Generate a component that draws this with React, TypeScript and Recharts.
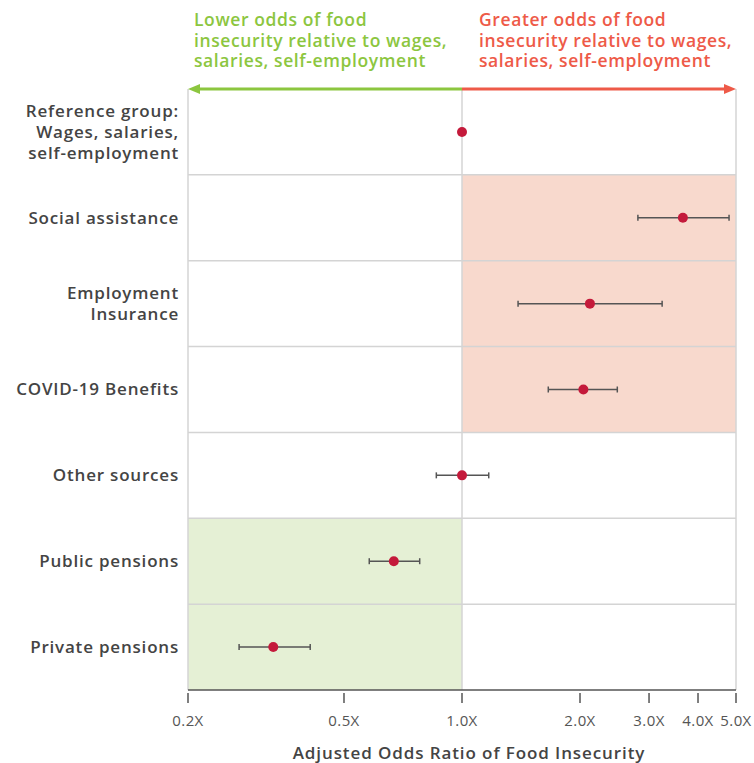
import React from 'react';
import {
  ScatterChart, Scatter, XAxis, YAxis, ErrorBar, ReferenceArea, ReferenceLine,
} from 'recharts';

const categories = [
  ['Reference group:', 'Wages, salaries,', 'self-employment'],
  ['Social assistance'],
  ['Employment', 'Insurance'],
  ['COVID-19 Benefits'],
  ['Other sources'],
  ['Public pensions'],
  ['Private pensions'],
];
const oddsRatio = [1.0, 3.66, 2.12, 2.04, 1.0, 0.67, 0.33];
const ciLow = [null, 2.81, 1.39, 1.66, 0.86, 0.58, 0.27];
const ciHigh = [null, 4.8, 3.24, 2.49, 1.17, 0.78, 0.41];
const xTicks = [0.2, 0.5, 1.0, 2.0, 3.0, 4.0, 5.0];
const lowerLabel = ['Lower odds of food', 'insecurity relative to wages,', 'salaries, self-employment'];
const greaterLabel = ['Greater odds of food', 'insecurity relative to wages,', 'salaries, self-employment'];
const xTitle = 'Adjusted Odds Ratio of Food Insecurity';

const data = categories.map((c, i) => ({
  row: i + 0.5,
  or: oddsRatio[i],
  err: ciLow[i] == null ? null : [oddsRatio[i] - (ciLow[i] as number), (ciHigh[i] as number) - oddsRatio[i]],
}));

const FONT = '"Open Sans", "DejaVu Sans", sans-serif';
const GREEN = '#8cc63f';
const RED = '#ee5a48';
const GRID = '#d4d4d4';

const YTick = (props: any) => {
  const { x, y, payload } = props;
  const idx = Math.round(payload.value - 0.5);
  const lines = categories[idx] || [];
  const lh = 21;
  const start = y - ((lines.length - 1) * lh) / 2;
  return (
    <g>
      {lines.map((l, i) => (
        <text key={i} x={x} y={start + i * lh} dy="0.35em" textAnchor="end" fontFamily={FONT} fontWeight={600} fontSize={17} letterSpacing={0.8} fill="#444">{l}</text>
      ))}
    </g>
  );
};

const XTick = (props: any) => {
  const { x, y, payload } = props;
  return (
    <g>
      <line x1={x} x2={x} y1={y - 5} y2={y + 5} stroke="#555" strokeWidth={1.5} />
      <text x={x} y={y + 23} textAnchor="middle" fontFamily={FONT} fontSize={15} letterSpacing={0.4} fill="#555" dy="0.35em">
        {Number(payload.value).toFixed(1) + 'X'}
      </text>
    </g>
  );
};

const makeArrow = (dir: 'left' | 'right', color: string, lines: string[]) => (props: any) => {
  const { x1, y1, x2 } = props;
  const left = Math.min(x1, x2);
  const right = Math.max(x1, x2);
  const y = y1;
  const head = dir === 'left'
    ? `${left},${y} ${left + 12},${y - 5} ${left + 12},${y + 5}`
    : `${right},${y} ${right - 12},${y - 5} ${right - 12},${y + 5}`;
  const tx = dir === 'left' ? left + 6 : left + 17;
  return (
    <g>
      <line x1={dir === 'left' ? left + 8 : left} x2={dir === 'left' ? right : right - 8} y1={y} y2={y} stroke={color} strokeWidth={3} />
      <polygon points={head} fill={color} />
      {lines.map((l, i) => (
        <text key={i} x={tx} y={20 + i * 20.5} dy="0.35em" fontFamily={FONT} fontWeight={600} fontSize={17.5} letterSpacing={0.6} fill={color}>{l}</text>
      ))}
    </g>
  );
};

const Dot = (props: any) => {
  const { cx, cy } = props;
  return <circle cx={cx} cy={cy} r={5} fill="#c41a3b" />;
};

const XTitle = (props: any) => {
  const { viewBox } = props;
  const cx = viewBox.x + viewBox.width / 2 + 7;
  return (
    <text x={cx} y={753} textAnchor="middle" dy="0.35em" fontFamily={FONT} fontWeight={600} fontSize={17} letterSpacing={0.9} fill="#444">
      {xTitle}
    </text>
  );
};

export default function App() {
  return (
    <div style={{ position: 'absolute', left: 0, top: 0, width: 754, height: 763, background: '#fff' }}>
      <ScatterChart width={754} height={763} margin={{ top: 89, right: 18, bottom: 0, left: 0 }}>
        <XAxis
          type="number"
          dataKey="or"
          scale="log"
          domain={[0.2, 5]}
          allowDataOverflow
          ticks={xTicks}
          interval={0}
          tick={<XTick />}
          tickLine={false}
          height={73}
          axisLine={{ stroke: '#555', strokeWidth: 1.5 }}
          label={<XTitle />}
        />
        <YAxis
          type="number"
          dataKey="row"
          domain={[0, 7]}
          reversed
          ticks={[0.5, 1.5, 2.5, 3.5, 4.5, 5.5, 6.5]}
          interval={0}
          tick={<YTick />}
          tickLine={false}
          axisLine={false}
          width={188}
          tickMargin={3}
        />
        <ReferenceArea x1={1} x2={5} y1={1} y2={4} fill="#f8d9cd" fillOpacity={1} stroke="none" ifOverflow="visible" />
        <ReferenceArea x1={0.2} x2={1} y1={5} y2={7} fill="#e5f0d5" fillOpacity={1} stroke="none" ifOverflow="visible" />
        {[1, 2, 3, 4, 5, 6].map((v) => (
          <ReferenceLine key={'h' + v} y={v} stroke={GRID} strokeWidth={1.5} ifOverflow="visible" />
        ))}
        {[0.2, 1, 5].map((v) => (
          <ReferenceLine key={'v' + v} x={v} stroke={GRID} strokeWidth={1.5} ifOverflow="visible" />
        ))}
        <ReferenceLine
          segment={[{ x: 0.2, y: 0 }, { x: 1, y: 0 }]}
          ifOverflow="visible"
          shape={makeArrow('left', GREEN, lowerLabel)}
        />
        <ReferenceLine
          segment={[{ x: 1, y: 0 }, { x: 5, y: 0 }]}
          ifOverflow="visible"
          shape={makeArrow('right', RED, greaterLabel)}
        />
        <Scatter data={data} isAnimationActive={false} shape={<Dot />}>
          <ErrorBar dataKey="err" direction="x" width={3} stroke="#555" strokeWidth={1.5} />
        </Scatter>
      </ScatterChart>
    </div>
  );
}
